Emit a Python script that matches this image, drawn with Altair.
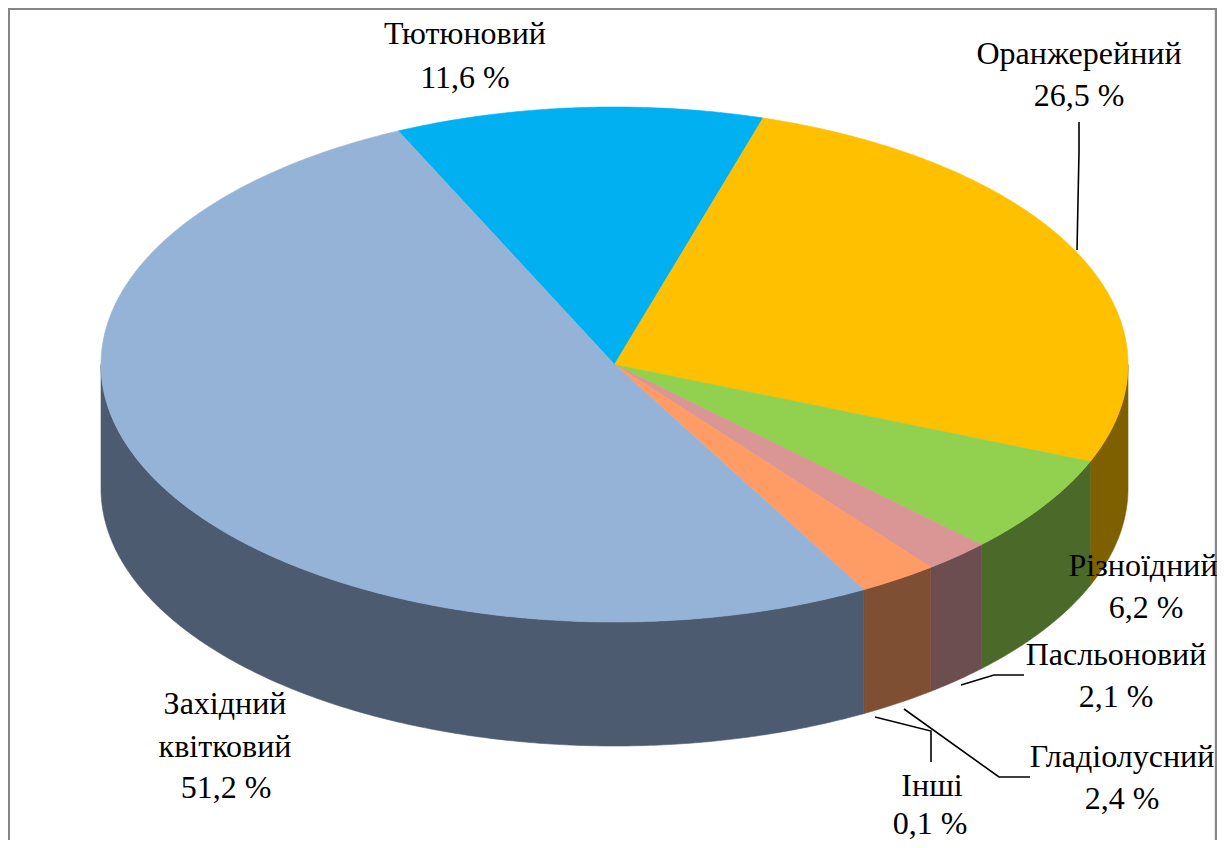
import math
import altair as alt

# --- data ---
categories = ["Тютюновий", "Оранжерейний", "Різноїдний", "Пасльоновий", "Гладіолусний", "Інші", "Західний квітковий"]
shares = [11.6, 26.5, 6.2, 2.1, 2.4, 0.1, 51.2]
top_colors = ["#00B0F0", "#FFC000", "#92D050", "#D99694", "#FF9B65", "#FF9B65", "#95B3D7"]
side_colors = ["#00587A", "#7F6000", "#4B6A2A", "#6D4E50", "#7F4F33", "#7F4F33", "#4D5B70"]

label_lines = ["Тютюновий", "11,6 %", "Оранжерейний", "26,5 %", "Різноїдний", "6,2 %",
               "Пасльоновий", "2,1 %", "Гладіолусний", "2,4 %", "Інші", "0,1 %",
               "Західний", "квітковий", "51,2 %"]

# --- layout (page pixels) ---
CX, CY, RX, RY, DEPTH = 614.5, 364.5, 513.5, 257.5, 124.0
START = 335.1
W, H, M = 1209, 832, 8
label_x = [465, 465, 1079, 1079, 1143, 1146, 1116, 1116, 1122, 1122, 932, 930, 225, 225, 226]
label_y = [44, 88, 64, 106, 576, 618, 665, 707, 767, 809, 796, 834, 714, 757, 798]
leader_paths = [
    [(1079, 122), (1079, 152), (1077, 250)],
    [(1024, 675), (994, 675), (961, 685)],
    [(1030, 777), (999, 777), (904, 709)],
    [(931, 762), (931, 731), (875, 717)],
]
frame_path = [(8.8, 848), (8.8, 8.8), (1216, 8.8), (1216, 848)]


def rim(theta, drop=0.0):
    a = math.radians(theta)
    return [CX + RX * math.sin(a) - M, CY - RY * math.cos(a) + drop - M]


def arc(t0, t1, drop=0.0):
    n = max(2, int(abs(t1 - t0) * 2) + 1)
    return [rim(t0 + (t1 - t0) * i / (n - 1), drop) for i in range(n)]


def feature(ring, color):
    ring = ring + [ring[0]]
    return {"type": "Feature", "properties": {"color": color},
            "geometry": {"type": "Polygon", "coordinates": [ring]}}


total = sum(shares)
tops, walls = [], []
angle = START
for share, top, side in zip(shares, top_colors, side_colors):
    span = share / total * 360
    t0, t1 = angle, angle + span
    tops.append(feature([[CX - M, CY - M]] + arc(t0, t1), top))
    for k in (0, 360):
        a, b = max(t0, 90 + k), min(t1, 270 + k)
        if b > a:
            walls.append(feature(arc(a, b) + arc(b, a, DEPTH), side))
    angle = t1

color = alt.Color("properties.color:N", scale=None, legend=None)
stroke = alt.Stroke("properties.color:N", scale=None, legend=None)
walls_chart = alt.Chart(alt.Data(values=walls)).mark_geoshape(strokeWidth=0.6).encode(
    color=color, stroke=stroke
).project(type="identity", scale=1, translate=[0, 0])
tops_chart = alt.Chart(alt.Data(values=tops)).mark_geoshape(strokeWidth=0.6).encode(
    color=color, stroke=stroke
).project(type="identity", scale=1, translate=[0, 0])

xs = alt.X("x:Q", axis=None, scale=alt.Scale(domain=[M, M + W], range=[0, W], nice=False, zero=False))
ys = alt.Y("y:Q", axis=None, scale=alt.Scale(domain=[M, M + H], range=[0, H], nice=False, zero=False))

frame_rows = [{"x": x, "y": y, "o": i} for i, (x, y) in enumerate(frame_path)]
frame = alt.Chart(alt.Data(values=frame_rows)).mark_line(color="#868686", strokeWidth=2.4).encode(
    x=xs, y=ys, order="o:Q")

leader_rows = [{"x": x, "y": y, "o": i, "g": g} for g, p in enumerate(leader_paths) for i, (x, y) in enumerate(p)]
leaders = alt.Chart(alt.Data(values=leader_rows)).mark_line(color="#000000", strokeWidth=1.6).encode(
    x=xs, y=ys, order="o:Q", detail="g:N")

label_rows = [{"t": t, "x": x, "y": y} for t, x, y in zip(label_lines, label_x, label_y)]
labels = alt.Chart(alt.Data(values=label_rows)).mark_text(
    font="Liberation Serif", fontSize=32, color="#000000", align="center", baseline="alphabetic"
).encode(x=xs, y=ys, text="t:N")

chart = alt.layer(walls_chart, tops_chart, frame, leaders, labels).properties(
    width=W, height=H, padding=0, background="#FFFFFF",
    autosize=alt.AutoSizeParams(type="none")
).configure_view(stroke=None)

chart.save("out.html", embed_options={"renderer": "svg", "actions": False})
